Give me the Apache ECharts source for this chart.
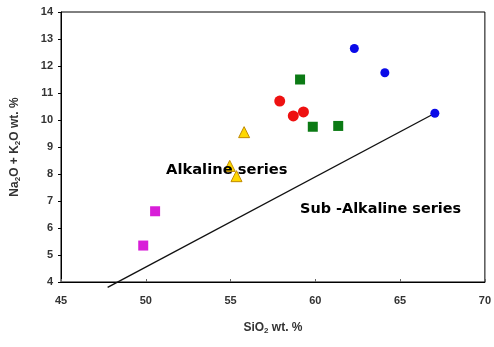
<!DOCTYPE html>
<html>
<head>
<meta charset="utf-8">
<script src="https://cdn.jsdelivr.net/npm/echarts@6/dist/echarts.min.js"></script>
<style>
  html, body { margin: 0; padding: 0; background: #fff; }
  #chart { width: 494px; height: 347px; }
</style>
</head>
<body>
<div id="chart"></div>
<script>
// SiO2 (wt. %) vs total alkalis (wt. %) for each sample group
const blueCircles     = [[62.3, 12.65], [64.1, 11.75], [67.05, 10.25]];
const greenSquares    = [[59.1, 11.5], [59.85, 9.75], [61.35, 9.78]];
const redCircles      = [[57.9, 10.7], [58.7, 10.15], [59.3, 10.3]];
const yellowTriangles = [[55.8, 9.55], [54.95, 8.3], [55.35, 7.92]];
const magentaSquares  = [[50.55, 6.62], [49.85, 5.35]];

// Alkaline / sub-alkaline dividing line
const dividerLine = [[47.75, 3.8], [67.05, 10.25]];

// Axis ranges and tick steps
const xRange = [45, 70], xStep = 5;
const yRange = [4, 14], yStep = 1;

const chart = echarts.init(document.getElementById('chart'), null, { renderer: 'canvas' });

const FONT = 'Arial, "Liberation Sans", sans-serif';
const tickFont = { color: '#333', fontFamily: FONT, fontSize: 11, fontWeight: 'bold' };
const nameRich = {
  n: { fontFamily: FONT, fontSize: 12, color: '#333', fontWeight: 'bold' },
  s: { fontFamily: FONT, fontSize: 8, color: '#333', fontWeight: 'bold', verticalAlign: 'bottom', padding: [6, 0, 0, 0] }
};

function group(data, symbol, size, color, border) {
  return {
    type: 'scatter', data: data, symbol: symbol, symbolSize: size,
    itemStyle: { color: color, opacity: 1, borderColor: border || color, borderWidth: border ? 1 : 0 },
    z: 3
  };
}

chart.setOption({
  animation: false,
  grid: { left: 61, right: 6, top: 12, bottom: 65, show: true, borderColor: '#000', borderWidth: 1, backgroundColor: '#fff' },
  xAxis: {
    type: 'value', min: xRange[0], max: xRange[1], interval: xStep,
    name: '{n|SiO}{s|2}{n| wt. %}', nameLocation: 'middle', nameGap: 39,
    nameTextStyle: { rich: nameRich },
    axisLine: { lineStyle: { color: '#000', width: 1 } },
    axisTick: { inside: true, length: 3, lineStyle: { color: '#666' } },
    axisLabel: Object.assign({ margin: 13 }, tickFont),
    splitLine: { show: false }
  },
  yAxis: {
    type: 'value', min: yRange[0], max: yRange[1], interval: yStep,
    name: '{n|Na}{s|2}{n|O + K}{s|2}{n|O wt. %}', nameLocation: 'middle', nameGap: 39, nameRotate: 90,
    nameTextStyle: { rich: nameRich },
    axisLine: { lineStyle: { color: '#000', width: 1 } },
    axisTick: { inside: false, length: 3, lineStyle: { color: '#000' } },
    axisLabel: Object.assign({ margin: 8 }, tickFont),
    splitLine: { show: false }
  },
  series: [
    {
      type: 'line', data: dividerLine, symbol: 'none', clip: false,
      lineStyle: { color: '#111', width: 1.4 }, z: 2
    },
    group(blueCircles, 'circle', 9, '#0a0ae8'),
    group(greenSquares, 'rect', 10, '#0b7a14'),
    group(redCircles, 'circle', 11, '#ee1111'),
    group(yellowTriangles, 'triangle', 11, '#ffd800', '#c08a00'),
    group(magentaSquares, 'rect', 10, '#d81ed8')
  ],
  graphic: [
    { type: 'text', x: 166, y: 163, scaleX: 1.05, z: 10,
      style: { text: 'Alkaline series', fill: '#000', font: 'bold 14px "DejaVu Sans", sans-serif' } },
    { type: 'text', x: 300, y: 202, scaleX: 1.03, z: 10,
      style: { text: 'Sub -Alkaline series', fill: '#000', font: 'bold 14px "DejaVu Sans", sans-serif' } }
  ]
});
</script>
</body>
</html>
